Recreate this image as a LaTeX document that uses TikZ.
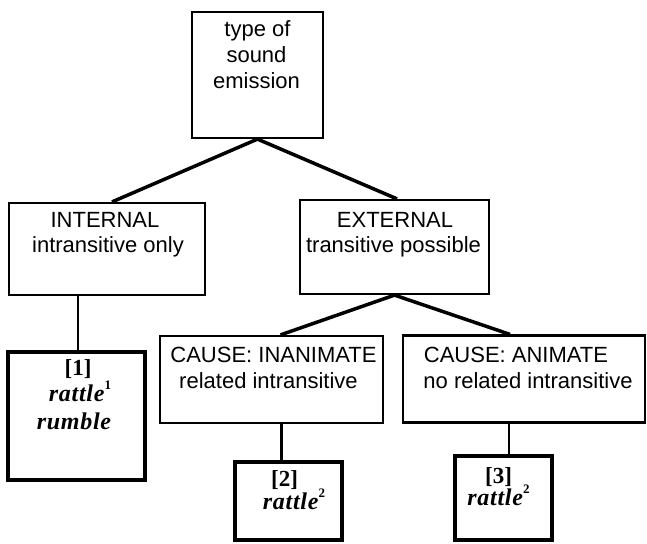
\documentclass[tikz,border=0pt]{standalone}
\usepackage{fontspec}
\setmainfont{Liberation Sans}
\newfontfamily\wordfont[LetterSpace=3]{Liberation Serif}
\newfontfamily\numfont{Liberation Serif}
\newcommand{\supnum}[1]{\raisebox{0.5em}{\fontsize{13}{13}\selectfont\bfseries\upshape #1}}
\begin{document}
\begin{tikzpicture}[x=1pt,y=-1pt,
  box/.style={draw, line width=2.2pt, inner sep=0pt, fill=white},
  leafbox/.style={draw, line width=4.5pt, inner sep=0pt, fill=white},
  conn/.style={line width=3.5pt},
  vconn/.style={line width=2.2pt},
  txt/.style={inner sep=0pt, anchor=base, font=\fontsize{22}{26}\selectfont},
  word/.style={inner sep=0pt, anchor=base, font=\wordfont\fontsize{24}{26}\selectfont\bfseries\itshape},
  num/.style={inner sep=0pt, anchor=base, font=\numfont\fontsize{23}{26}\selectfont\bfseries}]
\useasboundingbox (0,0) rectangle (647,543);
% boxes
\node[box, minimum width=131pt, minimum height=126pt] (top) at (257.5,75) {};
\node[box, minimum width=196pt, minimum height=92pt] (internal) at (107,249) {};
\node[box, minimum width=189pt, minimum height=94pt] (external) at (394.5,247) {};
\node[box, minimum width=223pt, minimum height=87pt] (inan) at (271.5,379.5) {};
\node[box, minimum width=242pt, minimum height=87pt] (anim) at (524,379) {};
\node[leafbox, minimum width=137pt, minimum height=128pt] (one) at (76.5,416) {};
\node[leafbox, minimum width=107pt, minimum height=78pt] (two) at (288.5,501) {};
\node[leafbox, minimum width=97pt, minimum height=84pt] (three) at (503.5,498) {};
% connectors
\draw[conn] (top.south) -- ([xshift=5pt]internal.north);
\draw[conn] (top.south) -- ([xshift=2.5pt]external.north);
\draw[conn] (external.south) -- ([xshift=9pt]inan.north);
\draw[conn] (external.south) -- ([xshift=-14pt]anim.north);
\draw[vconn] ([xshift=1.5pt]one.north) -- ([xshift=1.5pt]one.north |- internal.south);
\draw[vconn] ([xshift=-7pt]two.north) -- ([xshift=-7pt]two.north |- inan.south);
\draw[vconn] ([xshift=5.5pt]three.north) -- ([xshift=5.5pt]three.north |- anim.south);
% texts
\node[txt] (top1) at (257.5,37) {type of};
\node[txt] (top2) at (256.5,63) {sound};
\node[txt] (top3) at (256.5,88) {emission};
\node[txt] (int1) at (105,227) {INTERNAL};
\node[txt] (int2) at (108,252) {intransitive only};
\node[txt] (ext1) at (395,227) {EXTERNAL};
\node[txt] (ext2) at (393.5,252) {transitive possible};
\node[txt] (inan1) at (273.5,362) {CAUSE: INANIMATE};
\node[txt] (inan2) at (268.5,388) {related intransitive};
\node[txt] (anim1) at (516,362) {CAUSE: ANIMATE};
\node[txt] (anim2) at (528,388) {no related intransitive};
\node[num] (one1) at (78,375) {[1]};
\node[word] (one2) at (80,401) {rattle\supnum{1}};
\node[word] (one3) at (74,429) {rumble};
\node[num] (two1) at (284.5,486) {[2]};
\node[word] (two2) at (294,509) {rattle\supnum{2}};
\node[num] (three1) at (498.5,483) {[3]};
\node[word] (three2) at (498.5,505) {rattle\supnum{2}};
\end{tikzpicture}
\end{document}
